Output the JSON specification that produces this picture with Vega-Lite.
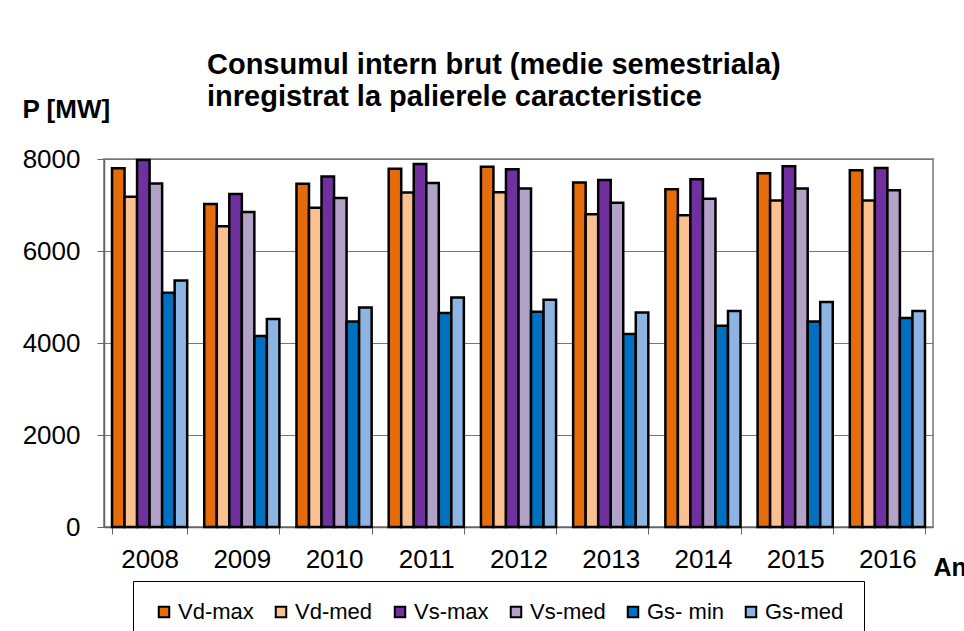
{
  "$schema": "https://vega.github.io/schema/vega-lite/v6.json",
  "width": 829,
  "height": 368,
  "autosize": {"type": "none"},
  "padding": {"left": 104, "top": 159, "right": 31, "bottom": 104},
  "background": "white",
  "config": {
    "font": "Liberation Sans",
    "view": {"stroke": "#999999", "strokeWidth": 2}
  },
  "title": {
    "text": ["Consumul intern brut (medie semestriala)", "inregistrat la palierele caracteristice"],
    "fontSize": 29,
    "fontWeight": "bold",
    "color": "black",
    "anchor": "start",
    "frame": "group",
    "dx": 103,
    "dy": 62,
    "lineHeight": 32,
    "offset": 46
  },
  "data": {
    "values": [
      {"year": "2008", "series": "Vd-max", "value": 7800},
      {"year": "2008", "series": "Vd-med", "value": 7180},
      {"year": "2008", "series": "Vs-max", "value": 7980},
      {"year": "2008", "series": "Vs-med", "value": 7470},
      {"year": "2008", "series": "Gs- min", "value": 5090},
      {"year": "2008", "series": "Gs-med", "value": 5360},
      {"year": "2009", "series": "Vd-max", "value": 7020},
      {"year": "2009", "series": "Vd-med", "value": 6540},
      {"year": "2009", "series": "Vs-max", "value": 7240},
      {"year": "2009", "series": "Vs-med", "value": 6850},
      {"year": "2009", "series": "Gs- min", "value": 4150},
      {"year": "2009", "series": "Gs-med", "value": 4520},
      {"year": "2010", "series": "Vd-max", "value": 7460},
      {"year": "2010", "series": "Vd-med", "value": 6940},
      {"year": "2010", "series": "Vs-max", "value": 7620},
      {"year": "2010", "series": "Vs-med", "value": 7150},
      {"year": "2010", "series": "Gs- min", "value": 4470},
      {"year": "2010", "series": "Gs-med", "value": 4770},
      {"year": "2011", "series": "Vd-max", "value": 7790},
      {"year": "2011", "series": "Vd-med", "value": 7270},
      {"year": "2011", "series": "Vs-max", "value": 7890},
      {"year": "2011", "series": "Vs-med", "value": 7480},
      {"year": "2011", "series": "Gs- min", "value": 4650},
      {"year": "2011", "series": "Gs-med", "value": 4990},
      {"year": "2012", "series": "Vd-max", "value": 7830},
      {"year": "2012", "series": "Vd-med", "value": 7275},
      {"year": "2012", "series": "Vs-max", "value": 7775},
      {"year": "2012", "series": "Vs-med", "value": 7360},
      {"year": "2012", "series": "Gs- min", "value": 4680},
      {"year": "2012", "series": "Gs-med", "value": 4940},
      {"year": "2013", "series": "Vd-max", "value": 7490},
      {"year": "2013", "series": "Vd-med", "value": 6800},
      {"year": "2013", "series": "Vs-max", "value": 7545},
      {"year": "2013", "series": "Vs-med", "value": 7050},
      {"year": "2013", "series": "Gs- min", "value": 4195},
      {"year": "2013", "series": "Gs-med", "value": 4665},
      {"year": "2014", "series": "Vd-max", "value": 7340},
      {"year": "2014", "series": "Vd-med", "value": 6775},
      {"year": "2014", "series": "Vs-max", "value": 7560},
      {"year": "2014", "series": "Vs-med", "value": 7135},
      {"year": "2014", "series": "Gs- min", "value": 4375},
      {"year": "2014", "series": "Gs-med", "value": 4695},
      {"year": "2015", "series": "Vd-max", "value": 7690},
      {"year": "2015", "series": "Vd-med", "value": 7100},
      {"year": "2015", "series": "Vs-max", "value": 7840},
      {"year": "2015", "series": "Vs-med", "value": 7360},
      {"year": "2015", "series": "Gs- min", "value": 4465},
      {"year": "2015", "series": "Gs-med", "value": 4890},
      {"year": "2016", "series": "Vd-max", "value": 7755},
      {"year": "2016", "series": "Vd-med", "value": 7100},
      {"year": "2016", "series": "Vs-max", "value": 7805},
      {"year": "2016", "series": "Vs-med", "value": 7320},
      {"year": "2016", "series": "Gs- min", "value": 4545},
      {"year": "2016", "series": "Gs-med", "value": 4695}
    ]
  },
  "mark": {"type": "bar", "stroke": "black", "strokeWidth": 2.5, "strokeJoin": "miter"},
  "encoding": {
    "x": {
      "field": "year",
      "type": "nominal",
      "scale": {"paddingInner": 0.185, "paddingOuter": 0.087},
      "axis": {
        "title": "Ani",
        "titleFontSize": 25,
        "titleFontWeight": "bold",
        "titleColor": "black",
        "titleAlign": "left",
        "titleBaseline": "alphabetic",
        "titleAnchor": "start",
        "titleX": 829,
        "titleY": 48,
        "labelAngle": 0,
        "labelFontSize": 26,
        "labelColor": "black",
        "labelPadding": 12,
        "tickBand": "extent",
        "tickSize": 7,
        "tickColor": "#666666",
        "domainColor": "#666666",
        "domainWidth": 1.5,
        "grid": false
      }
    },
    "xOffset": {
      "field": "series",
      "type": "nominal",
      "sort": ["Vd-max", "Vd-med", "Vs-max", "Vs-med", "Gs- min", "Gs-med"],
      "scale": {"paddingInner": 0, "paddingOuter": 0}
    },
    "y": {
      "field": "value",
      "type": "quantitative",
      "scale": {"domain": [0, 8000], "nice": false},
      "axis": {
        "values": [0, 2000, 4000, 6000, 8000],
        "format": "d",
        "title": "P [MW]",
        "titleFontSize": 26,
        "titleFontWeight": "bold",
        "titleColor": "black",
        "titleAngle": 0,
        "titleAlign": "left",
        "titleBaseline": "alphabetic",
        "titleX": -82,
        "titleY": -42,
        "labelFontSize": 26,
        "labelColor": "black",
        "labelPadding": 17,
        "tickSize": 7,
        "tickColor": "#666666",
        "domainColor": "#666666",
        "domainWidth": 1.5,
        "gridColor": "#777777",
        "gridWidth": 1.2
      }
    },
    "color": {
      "field": "series",
      "type": "nominal",
      "scale": {
        "domain": ["Vd-max", "Vd-med", "Vs-max", "Vs-med", "Gs- min", "Gs-med"],
        "range": ["#E46C0A", "#FAC090", "#7030A0", "#B3A2C7", "#0070C0", "#8EB4E3"]
      },
      "legend": {
        "title": null,
        "orient": "none",
        "direction": "horizontal",
        "legendX": 29,
        "legendY": 422,
        "padding": 20,
        "strokeColor": "black",
        "fillColor": "white",
        "symbolType": "square",
        "symbolSize": 110,
        "symbolStrokeColor": "black",
        "symbolStrokeWidth": 2,
        "symbolOpacity": 1,
        "labelFontSize": 22,
        "labelColor": "black",
        "labelOffset": 3,
        "columnPadding": 16,
        "labelLimit": 200
      }
    }
  }
}
